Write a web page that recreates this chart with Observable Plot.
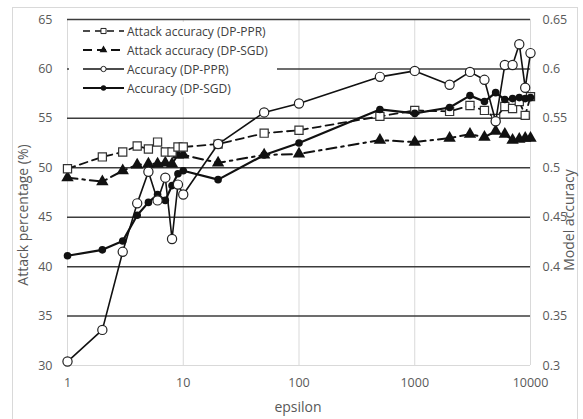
<!DOCTYPE html>
<html><head><meta charset="utf-8">
<script src="https://cdn.jsdelivr.net/npm/d3@7"></script>
<script src="https://cdn.jsdelivr.net/npm/@observablehq/plot@0.6"></script>
<style>
body{margin:0;background:#fff;}
#wrap{position:relative;width:583px;height:419px;font-family:"Open Sans",sans-serif;overflow:hidden;}
#frame{position:absolute;left:12px;top:7px;width:566px;height:420px;border:1px solid #d9d9d9;box-sizing:border-box;}
.lab{position:absolute;color:#595959;font-size:14px;white-space:nowrap;}
#legend{position:absolute;left:69px;top:22px;width:208px;height:75px;background:#fff;}
.lrow{position:absolute;left:0;height:18px;display:flex;align-items:center;}
.lrow span{font-size:12px;color:#404040;margin-left:2px;white-space:nowrap;}
</style></head><body>
<div id="wrap"><div id="frame"></div></div>
<script>
const eps = [1,2,3,4,5,6,7,8,9,10,20,50,100,500,1000,2000,3000,4000,5000,6000,7000,8000,9000,10000];
const attackPPR = [49.9,51.1,51.6,52.2,51.9,52.6,51.6,51.6,52.1,52.1,52.4,53.5,53.8,55.2,55.8,55.7,56.3,55.8,55.0,56.2,56.0,56.7,55.3,57.2];
const attackSGD = [49.0,48.6,49.7,50.3,50.4,50.4,50.5,50.4,51.3,51.3,50.5,51.3,51.4,52.8,52.6,53.0,53.4,53.1,53.7,53.4,52.8,52.9,53.0,53.0];
const accPPR = [0.304,0.336,0.415,0.464,0.496,0.467,0.490,0.428,0.483,0.473,0.524,0.556,0.565,0.592,0.598,0.584,0.597,0.589,0.547,0.604,0.604,0.625,0.581,0.616];
const accSGD = [0.411,0.417,0.426,0.452,0.465,0.473,0.467,0.482,0.494,0.497,0.488,0.513,0.525,0.559,0.555,0.561,0.573,0.567,0.576,0.569,0.570,0.571,0.570,0.571];
const xTicks = [1,10,100,1000,10000];
const yTicks = [30,35,40,45,50,55,60,65];
const gridY = [35,40,45,50,55,60,65];
const seriesNames = ["Attack accuracy (DP-PPR)","Attack accuracy (DP-SGD)","Accuracy (DP-PPR)","Accuracy (DP-SGD)"];

const rows = eps.map((e,i)=>({eps:e, aPPR:attackPPR[i], aSGD:attackSGD[i], cPPR:accPPR[i]*100, cSGD:accSGD[i]*100}));
const ink = "#111";

const plot = Plot.plot({
  width:583, height:419,
  marginLeft:67, marginRight:53, marginTop:19, marginBottom:54,
  style:{fontFamily:"'Open Sans',sans-serif", fontSize:"12.5px", color:"#595959", background:"transparent"},
  x:{type:"log", domain:[1,10000]},
  y:{domain:[30,65]},
  marks:[
    Plot.ruleX(xTicks, {stroke:"#d9d9d9", strokeWidth:1}),
    Plot.ruleY([30], {stroke:"#d9d9d9", strokeWidth:1.2}),
    Plot.ruleY(gridY, {stroke:"#3c3c3c", strokeWidth:1.5}),
    Plot.axisX({ticks:xTicks, tickFormat:d=>String(d), tickSize:0, tickPadding:13, label:null}),
    Plot.axisY({ticks:yTicks, tickFormat:d=>String(d), tickSize:0, tickPadding:15, label:null}),
    Plot.axisY({anchor:"right", ticks:yTicks, tickFormat:d=>String(+(d/100).toFixed(2)), tickSize:0, tickPadding:12, label:null}),
    // Attack accuracy (DP-SGD)
    Plot.line(rows, {x:"eps", y:"aSGD", stroke:ink, strokeWidth:2, strokeDasharray:"10,5,2.5,5"}),
    Plot.dot(rows, {x:"eps", y:"aSGD", symbol:"triangle", r:4.6, fill:ink, stroke:"none"}),
    // Attack accuracy (DP-PPR)
    Plot.line(rows, {x:"eps", y:"aPPR", stroke:ink, strokeWidth:1.8, strokeDasharray:"8,5"}),
    Plot.dot(rows, {x:"eps", y:"aPPR", symbol:"square", r:4.6, fill:"white", stroke:"#333", strokeWidth:1.2}),
    // Accuracy (DP-SGD)
    Plot.line(rows, {x:"eps", y:"cSGD", stroke:ink, strokeWidth:2.2}),
    Plot.dot(rows, {x:"eps", y:"cSGD", r:3.8, fill:ink, stroke:"none"}),
    // Accuracy (DP-PPR)
    Plot.line(rows, {x:"eps", y:"cPPR", stroke:ink, strokeWidth:1.6}),
    Plot.dot(rows, {x:"eps", y:"cPPR", r:4.6, fill:"white", stroke:"#222", strokeWidth:1.2})
  ]
});
plot.style.position = "absolute";
plot.style.left = "0px";
plot.style.top = "0px";
const wrap = document.getElementById("wrap");
wrap.appendChild(plot);

// axis titles
function addLabel(text, x, y, rot){
  const d = document.createElement("div");
  d.className = "lab";
  d.textContent = text;
  d.style.left = x + "px";
  d.style.top = y + "px";
  d.style.transform = "translate(-50%,-50%)" + (rot ? ` rotate(${rot}deg)` : "");
  wrap.appendChild(d);
}
addLabel("Attack percentage (%)", 22, 215, -90);
addLabel("Model accuracy", 568, 220, -90);
addLabel("epsilon", 298, 406, 0);

// legend
const legend = document.createElement("div");
legend.id = "legend";
wrap.appendChild(legend);
const sampleStyles = [
  {dash:"7,5", sym:"square", fill:"white", w:1.6},
  {dash:"9,5", sym:"triangle", fill:ink, w:2},
  {dash:null, sym:"circle", fill:"white", w:1.6},
  {dash:null, sym:"circle", fill:ink, w:2}
];
const rowY = [0, 19, 38, 57];
seriesNames.forEach((name,i)=>{
  const s = sampleStyles[i];
  const r = document.createElement("div");
  r.className = "lrow";
  r.style.top = rowY[i] + "px";
  const svg = d3.create("svg").attr("width",56).attr("height",18);
  svg.append("line").attr("x1",14).attr("x2",55).attr("y1",9).attr("y2",9)
    .attr("stroke",ink).attr("stroke-width",s.w).attr("stroke-dasharray",s.dash);
  const sym = s.sym==="square"?d3.symbolSquare:s.sym==="triangle"?d3.symbolTriangle:d3.symbolCircle;
  svg.append("path").attr("d", d3.symbol(sym, s.sym==="circle"?22:26)()).attr("transform","translate(34.5,9)")
    .attr("fill",s.fill).attr("stroke",s.fill==="white"?"#222":"none").attr("stroke-width",1);
  r.appendChild(svg.node());
  const t = document.createElement("span");
  t.textContent = name;
  r.appendChild(t);
  legend.appendChild(r);
});
</script>
</body></html>
